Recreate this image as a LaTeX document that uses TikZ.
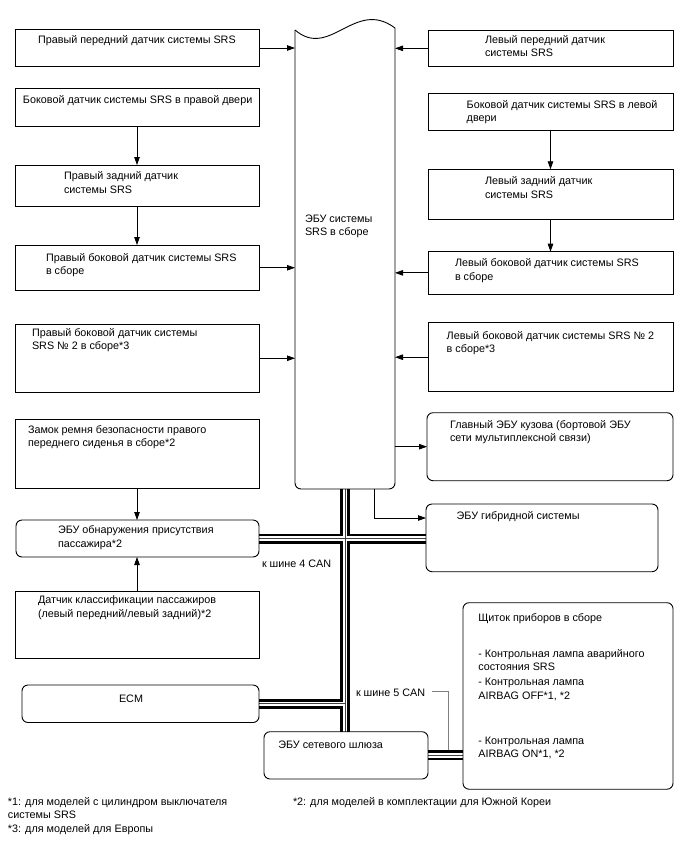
\documentclass[tikz,border=0pt]{standalone}
\usepackage{fontspec}
\setmainfont{Liberation Sans}
\usetikzlibrary{arrows.meta,calc}
\pgfdeclarelayer{bg}
\pgfsetlayers{bg,main}
\tikzset{
 box/.style={draw, line width=0.9pt, inner sep=0pt, outer sep=0pt, anchor=north west},
 rbox/.style={box, rounded corners=6pt},
 txt/.style={anchor=north west, inner sep=0pt, outer sep=0pt, align=left, font=\fontsize{10.8}{13.5}\selectfont},
 arr/.style={line width=0.8pt, -{Triangle[length=8pt,width=5.5pt]}},
 busA/.style={line width=10pt, black},
 busB/.style={line width=4.5pt, white},
 busC/.style={line width=1pt, black!75},
 lead/.style={line width=1pt, black!50},
}
\newcommand{\tx}[4]{\node[txt] (#1) at (#2,#3-7.3) {\rule{0pt}{10.5pt}#4};}
\begin{document}
\begin{tikzpicture}[x=1pt,y=-1pt]
\useasboundingbox (0,0) rectangle (688,852);
% left column
\node[box, minimum width=244pt, minimum height=37pt] (l1) at (15,29.5) {};
\node[box, minimum width=244pt, minimum height=38.5pt] (l2) at (15,88) {};
\node[box, minimum width=244pt, minimum height=41.5pt] (l3) at (15,165) {};
\node[box, minimum width=244pt, minimum height=45.5pt] (l4) at (15,245) {};
\node[box, minimum width=244pt, minimum height=68.5pt] (l5) at (15,324) {};
\node[box, minimum width=244pt, minimum height=69pt] (l6) at (15,419) {};
\node[rbox, minimum width=243pt, minimum height=37pt] (pecu) at (16,520) {};
\node[box, minimum width=244pt, minimum height=67pt] (cls) at (15,591) {};
\node[rbox, minimum width=237pt, minimum height=37.5pt] (ecm) at (22,685) {};
% right column
\node[box, minimum width=245pt, minimum height=36.7pt] (r1) at (428,30) {};
\node[box, minimum width=245pt, minimum height=36.7pt] (r2) at (428,93.3) {};
\node[box, minimum width=245pt, minimum height=50pt] (r3) at (428,169.3) {};
\node[box, minimum width=245pt, minimum height=42.3pt] (r4) at (428,251.7) {};
\node[box, minimum width=245pt, minimum height=69pt] (r5) at (428,322.7) {};
\node[rbox, minimum width=246pt, minimum height=68pt] (mb) at (427,412.7) {};
\node[rbox, minimum width=232pt, minimum height=67.7pt] (hyb) at (426,504) {};
\node[rbox, minimum width=210pt, minimum height=186.5pt] (cl) at (463,602.7) {};
\node[rbox, minimum width=164pt, minimum height=47.3pt] (gw) at (264,731.7) {};
% central ECU
\node[inner sep=0pt, outer sep=0pt, anchor=north west, minimum width=100pt, minimum height=461pt] (ecu) at (295,28) {};
\draw[line width=0.9pt, rounded corners=6pt] (ecu.north east) -- (ecu.south east) -- (ecu.south west) -- ([yshift=-2pt]ecu.north west);
\draw[line width=0.9pt] ([yshift=-2pt]ecu.north west) .. controls +(35,30) and +(-40,-30) .. (ecu.north east);
\coordinate (c5) at ($(gw.east)!0.5!(gw.east -| cl.west)$);
% buses
\begin{pgfonlayer}{bg}
\fill[white] (0,0) rectangle (688,852);
\foreach \s in {busA,busB,busC}{
 \draw[\s] (ecu.south) -- (ecu.south |- gw.north);
 \draw[\s] (pecu.east) -- (pecu.east -| hyb.west);
 \draw[\s] (ecm.east) -- (ecm.east -| ecu.south);
 \draw[\s] (gw.east) -- (gw.east -| cl.west);
}
\end{pgfonlayer}
% texts
\tx{t1}{38}{40}{Правый передний датчик системы SRS}
\tx{t2}{23}{100}{Боковой датчик системы SRS в правой двери}
\tx{t3}{64}{176.7}{Правый задний датчик\\системы SRS}
\tx{t4}{46}{258}{Правый боковой датчик системы SRS\\в сборе}
\tx{t5}{32}{333}{Правый боковой датчик системы\\SRS № 2 в сборе*3}
\tx{t6}{28}{430}{Замок ремня безопасности правого\\переднего сиденья в сборе*2}
\tx{t7}{58}{530.7}{ЭБУ обнаружения присутствия\\пассажира*2}
\tx{t8}{38}{600.7}{Датчик классификации пассажиров\\(левый передний/левый задний)*2}
\tx{t9}{119}{699}{ECM}
\tx{t10}{485}{40}{Левый передний датчик\\системы SRS}
\tx{t11}{466.7}{105}{Боковой датчик системы SRS в левой\\двери}
\tx{t12}{485}{181.7}{Левый задний датчик\\системы SRS}
\tx{t13}{455}{263.3}{Левый боковой датчик системы SRS\\в сборе}
\tx{t14}{446.7}{336}{Левый боковой датчик системы SRS № 2\\в сборе*3}
\tx{t15}{450}{425}{Главный ЭБУ кузова (бортовой ЭБУ\\сети мультиплексной связи)}
\tx{t16}{456.7}{516.7}{ЭБУ гибридной системы}
\tx{t17}{305}{219}{ЭБУ системы\\SRS в сборе}
\tx{t18}{278.3}{745.7}{ЭБУ сетевого шлюза}
\tx{t19}{478.3}{618.3}{Щиток приборов в сборе\\[22pt]- Контрольная лампа аварийного\\состояния SRS\\[1.5pt]- Контрольная лампа\\AIRBAG OFF*1, *2\\[31.5pt]- Контрольная лампа\\AIRBAG ON*1, *2}
\tx{can4}{262}{564}{к шине 4 CAN}
\tx{can5}{356}{693.3}{к шине 5 CAN}
\tx{f1}{8}{802}{*1: для моделей с цилиндром выключателя\\системы SRS\\*3: для моделей для Европы}
\tx{f2}{293}{802}{*2: для моделей в комплектации для Южной Кореи}
% connectors
\draw[arr] (l1.east) -- (l1.east -| ecu.west);
\draw[arr] (l2.south) -- (l3.north);
\draw[arr] (l3.south) -- (l4.north);
\draw[arr] (l4.east) -- (l4.east -| ecu.west);
\draw[arr] (l5.east) -- (l5.east -| ecu.west);
\draw[arr] (l6.south) -- (l6.south |- pecu.north);
\draw[arr] (cls.north) -- (cls.north |- pecu.south);
\draw[arr] (r1.west) -- (r1.west -| ecu.east);
\draw[arr] (r2.south) -- (r3.north);
\draw[arr] (r3.south) -- (r4.north);
\draw[arr] (r4.west) -- (r4.west -| ecu.east);
\draw[arr] (r5.west) -- (r5.west -| ecu.east);
\draw[arr] (mb.west -| ecu.east) -- (mb.west);
\draw[arr] ([xshift=29pt]ecu.south) |- ([yshift=19.85pt]hyb.west);
\draw[lead] ([xshift=7pt]can5.east) -| ([xshift=2.5pt,yshift=5pt]c5);
\end{tikzpicture}
\end{document}
